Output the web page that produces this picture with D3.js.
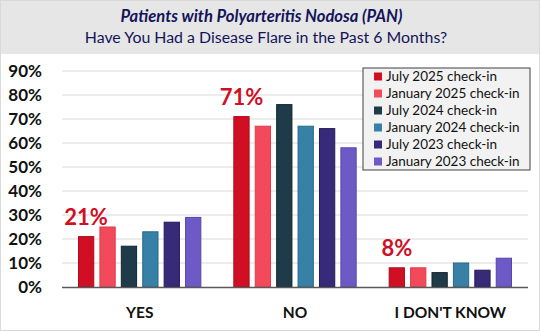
<!DOCTYPE html>
<html><head><meta charset="utf-8">
<script src="https://cdn.jsdelivr.net/npm/d3@7"></script>
<style>html,body{margin:0;padding:0;background:#fff}svg{display:block}</style>
</head><body>
<svg id="c" width="540" height="331"></svg>
<script>
const categories = ["YES", "NO", "I DON'T KNOW"];
const seriesNames = ["July 2025 check-in","January 2025 check-in","July 2024 check-in","January 2024 check-in","July 2023 check-in","January 2023 check-in"];
const seriesColors = ["#d10f24","#f24a5a","#1f3a48","#3780a6","#372a78","#6e5ac6"];
const seriesStroke = ["#b00a1c","#e03a4a","#14262f","#2a6888","#251b5a","#5646a8"];
const july2025 = [21, 71, 8];
const jan2025 = [25, 67, 8];
const july2024 = [17, 76, 6];
const jan2024 = [23, 67, 10];
const july2023 = [27, 66, 7];
const jan2023 = [29, 58, 12];
const seriesValues = [july2025, jan2025, july2024, jan2024, july2023, jan2023];
const yTicks = [0,10,20,30,40,50,60,70,80,90];
const titleLine1 = "Patients with Polyarteritis Nodosa (PAN)";
const titleLine2 = "Have You Had a Disease Flare in the Past 6 Months?";

const svg = d3.select("#c");
const W = 540, H = 331;
const font = "Lato, 'Open Sans', sans-serif";

svg.append("rect").attr("x",0).attr("y",0).attr("width",W).attr("height",54).attr("fill","#e6e6e6");
svg.append("rect").attr("x",0.5).attr("y",0.5).attr("width",W-1).attr("height",H-1).attr("fill","none").attr("stroke","#d9d9d9");

svg.append("text").attr("x",261.5).attr("y",22).attr("text-anchor","middle")
  .attr("font-family",font).attr("font-weight","bold").attr("font-style","italic")
  .attr("font-size",16.6).attr("fill","#14145a").text(titleLine1);
svg.append("text").attr("x",266).attr("y",42.5).attr("text-anchor","middle")
  .attr("font-family",font).attr("font-size",15.9).attr("fill","#14145a").text(titleLine2);

const x0 = d3.scaleBand().domain(categories).range([62,528]).paddingInner(0).paddingOuter(0);
const x1 = d3.scaleBand().domain(d3.range(seriesNames.length)).range([16, x0.bandwidth()-16]).paddingInner(0.24).paddingOuter(0);
const y = d3.scaleLinear().domain([0,90]).range([287,71]);

const g = svg.append("g");
g.selectAll("line.grid").data(yTicks.filter(d=>d>0)).enter().append("line")
  .attr("x1",62).attr("x2",528).attr("y1",d=>y(d)).attr("y2",d=>y(d))
  .attr("stroke","#d9d9d9").attr("stroke-width",1);

const yAxis = d3.axisLeft(y).tickValues(yTicks).tickFormat(d=>d+"%").tickSize(0).tickPadding(0);
const ya = svg.append("g").attr("transform","translate(42,0)").call(yAxis);
ya.select(".domain").remove();
ya.selectAll("text").attr("font-family",font).attr("font-weight","bold").attr("font-size",17).attr("fill","#111").attr("dy","0.35em");

seriesNames.forEach((s,i)=>{
  g.selectAll("rect.s"+i).data(categories).enter().append("rect")
    .attr("x",c=>x0(c)+x1(i)+0.5)
    .attr("y",(c,j)=>y(seriesValues[i][j]))
    .attr("width",x1.bandwidth()-1)
    .attr("height",(c,j)=>y(0)-y(seriesValues[i][j]))
    .attr("fill",seriesColors[i]).attr("stroke",seriesStroke[i]).attr("stroke-width",1);
});

svg.append("line").attr("x1",62).attr("x2",528).attr("y1",y(0)+0.5).attr("y2",y(0)+0.5).attr("stroke","#595959").attr("stroke-width",1.5);

const xAxis = d3.axisBottom(x0).tickSize(0).tickPadding(0);
const xa = svg.append("g").attr("transform","translate(0,313)").call(xAxis);
xa.select(".domain").remove();
xa.selectAll("text").attr("font-family",font).attr("font-weight","bold").attr("font-size",15.5).attr("fill","#111").attr("dy","0.35em");

// data labels for first series
svg.selectAll("text.dl").data(categories).enter().append("text")
  .attr("x",(c)=>x0(c)+x1(0)+x1.bandwidth()/2)
  .attr("y",(c,j)=>y(july2025[j])-12)
  .attr("text-anchor","middle")
  .attr("font-family",font).attr("font-weight","bold").attr("font-size",22).attr("fill","#d10f24")
  .text((c,j)=>july2025[j]+"%");

// legend
const lg = svg.append("g").attr("transform","translate(363,68)");
lg.append("rect").attr("x",0).attr("y",0).attr("width",167).attr("height",102).attr("fill","#f2f2f2").attr("stroke","#404040").attr("stroke-width",1);
seriesNames.forEach((s,i)=>{
  lg.append("rect").attr("x",11).attr("y",4.5+i*17).attr("width",8).attr("height",8).attr("fill",seriesColors[i]);
  lg.append("text").attr("x",23).attr("y",8.5+i*17).attr("dy","0.35em").attr("font-family",font).attr("font-size",13.5).attr("fill","#111").text(s);
});
</script>
</body></html>
